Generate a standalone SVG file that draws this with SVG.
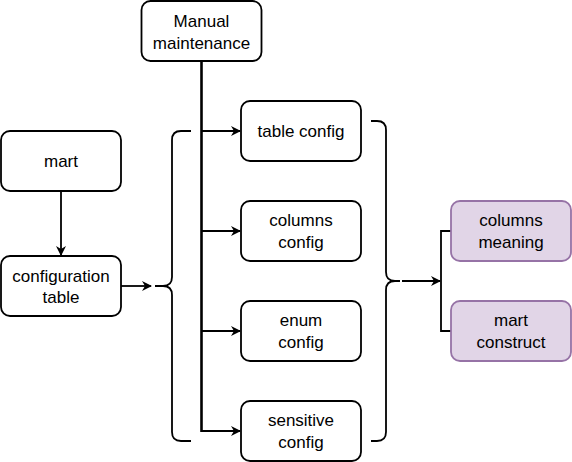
<svg xmlns="http://www.w3.org/2000/svg" width="572" height="462" viewBox="0 0 572 462">
<defs>
<marker id="ah" viewBox="0 0 10 10" refX="9" refY="5" markerWidth="10" markerHeight="10" markerUnits="userSpaceOnUse" orient="auto">
<path d="M0,0 L10,5 L0,10 L3,5 Z" fill="#000"/>
</marker>
<style>
.box{fill:#fff;stroke:#000;stroke-width:1.8}
.pbox{fill:#e1d5e7;stroke:#9673a6;stroke-width:1.8}
.t{font-family:"Liberation Sans",Arial,sans-serif;font-size:17px;fill:#000;text-anchor:middle}
.c{fill:none;stroke:#000;stroke-width:1.8}
</style>
</defs>
<rect width="572" height="462" fill="#fff"/>
<g id="connectors">
<line class="c" x1="61" y1="191" x2="61" y2="255" marker-end="url(#ah)"/>
<line class="c" x1="121" y1="286" x2="151" y2="286" marker-end="url(#ah)"/>
<path class="c" d="M191,131 H181 Q172,131 172,140 V277 Q172,286 163,286 H155 M163,286 Q172,286 172,295 V432 Q172,441 181,441 H191"/>
<line class="c" x1="201.5" y1="61" x2="201.5" y2="432" style="stroke-width:2.6"/>
<line class="c" x1="201" y1="131" x2="240" y2="131" marker-end="url(#ah)"/>
<line class="c" x1="201" y1="231" x2="240" y2="231" marker-end="url(#ah)"/>
<line class="c" x1="201" y1="331" x2="240" y2="331" marker-end="url(#ah)"/>
<line class="c" x1="201" y1="431" x2="240" y2="431" marker-end="url(#ah)"/>
<path class="c" d="M371,121 H377 Q386,121 386,130 V272 Q386,281 395,281 H400 M395,281 Q386,281 386,290 V432 Q386,441 377,441 H371"/>
<line class="c" x1="402" y1="281" x2="440" y2="281" marker-end="url(#ah)"/>
<path class="c" d="M451,231 H441 V331 H451"/>
</g>
<g id="mart"><rect class="box" x="1" y="131" width="120" height="60" rx="9"/><text class="t" x="61" y="167">mart</text></g>
<g id="configuration-table"><rect class="box" x="1" y="256" width="120" height="60" rx="9"/><text class="t" x="61" y="281.5">configuration</text><text class="t" x="61" y="303">table</text></g>
<g id="manual-maintenance"><rect class="box" x="141.5" y="1" width="120" height="60" rx="9"/><text class="t" x="201.5" y="27">Manual</text><text class="t" x="201.5" y="49">maintenance</text></g>
<g id="table-config"><rect class="box" x="241" y="101" width="120" height="60" rx="9"/><text class="t" x="301" y="137">table config</text></g>
<g id="columns-config"><rect class="box" x="241" y="201" width="120" height="60" rx="9"/><text class="t" x="301" y="226">columns</text><text class="t" x="301" y="248">config</text></g>
<g id="enum-config"><rect class="box" x="241" y="301" width="120" height="60" rx="9"/><text class="t" x="301" y="326">enum</text><text class="t" x="301" y="348">config</text></g>
<g id="sensitive-config"><rect class="box" x="241" y="401" width="120" height="60" rx="9"/><text class="t" x="301" y="426">sensitive</text><text class="t" x="301" y="448">config</text></g>
<g id="columns-meaning"><rect class="pbox" x="451" y="201" width="120" height="60" rx="9"/><text class="t" x="511" y="226">columns</text><text class="t" x="511" y="248">meaning</text></g>
<g id="mart-construct"><rect class="pbox" x="451" y="301" width="120" height="60" rx="9"/><text class="t" x="511" y="326">mart</text><text class="t" x="511" y="348">construct</text></g>
</svg>
